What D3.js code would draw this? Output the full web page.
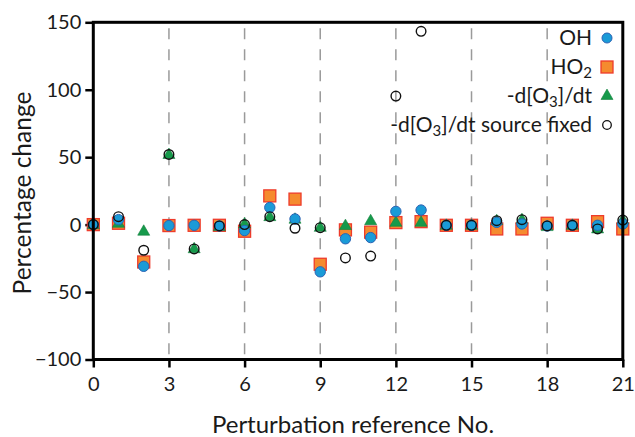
<!DOCTYPE html>
<html>
<head>
<meta charset="utf-8">
<script src="https://cdn.jsdelivr.net/npm/d3@7"></script>
<style>
  html, body { margin: 0; padding: 0; background: #fff; }
  svg { display: block; font-family: Lato, "Open Sans", sans-serif; }
</style>
</head>
<body>
<svg id="chart" width="635" height="437"></svg>
<script>
// ---- data ----
const categories = d3.range(0, 22); // perturbation reference No. 0..21
const ohValues     = [0, 3.7, -30.9, -0.7, -0.5, -1, -4.4, 12.7, 4.2, -35, -10.5, -9.6, 9.8, 10.8, -0.5, -0.5, 1.7, 0.5, -1, -0.5, -0.5, 0.5];
const ho2Values    = [0, 1, -27.7, -0.7, -0.5, -0.5, -4.9, 21.3, 18.9, -29.4, -3.9, -5.6, 1.5, 2.2, -0.5, -0.5, -3.2, -3.2, 1, -0.5, 2.2, -3.2];
const dO3Values    = [0, 1, -4.9, 52, -17.9, -1.5, 0.5, 5.9, 4, -2, -0.7, 2.9, 1.7, 1.7, -0.5, -0.5, 2.9, 3.7, -1.5, -0.5, -3.2, 3.4];
const dO3FixValues = [0, 5.9, -19, 52, -18, -1, 0, 5.9, -2.7, -2.3, -24.7, -23.3, 95.3, 143.3, -0.5, -0.5, 2.9, 3.7, -1, -0.5, -3.2, 3.4];
const xTicks = [0, 3, 6, 9, 12, 15, 18, 21];
const yTicks = [-100, -50, 0, 50, 100, 150];
const gridTicks = [3, 6, 9, 12, 15, 18];

const svg = d3.select("#chart");
const L = 93.3, R = 622.8, T = 22.3, B = 359.5;
const x = d3.scaleLinear().domain([0, 21]).range([L, R]);
const y = d3.scaleLinear().domain([-100, 150]).range([B, T]);

// grid
svg.append("g").selectAll("line").data(gridTicks).join("line")
  .attr("x1", d => x(d)).attr("x2", d => x(d))
  .attr("y1", T).attr("y2", B)
  .attr("stroke", "#9a9a9a").attr("stroke-width", 1.5)
  .attr("stroke-dasharray", "11,10").attr("stroke-dashoffset", -6);

// axes
const yAxis = svg.append("g").attr("transform", `translate(${L},0)`)
  .call(d3.axisLeft(y).tickValues(yTicks).tickSize(8).tickPadding(4).tickFormat(d3.format("d")));
const xAxis = svg.append("g").attr("transform", `translate(0,${B})`)
  .call(d3.axisBottom(x).tickValues(xTicks).tickSize(8).tickPadding(6).tickFormat(d3.format("d")));
[yAxis, xAxis].forEach(g => {
  g.select(".domain").remove();
  g.selectAll(".tick line").attr("stroke", "#000").attr("stroke-width", 2.5);
  g.selectAll(".tick text").attr("fill", "#1a1a1a").style("font-size", "20px").style("font-family", "Lato, sans-serif");
});
xAxis.selectAll(".tick text").attr("dy", "0.85em");

// markers
const sq = 12, tri = 12;
const g = svg.append("g");
g.selectAll(".ho2").data(categories).join("rect")
  .attr("x", d => x(d) - sq / 2).attr("y", (d, i) => y(ho2Values[i]) - sq / 2)
  .attr("width", sq).attr("height", sq)
  .attr("fill", "#f58b2f").attr("stroke", "#ee3b2b").attr("stroke-width", 1.3);
const triPath = d3.symbol().type(d3.symbolTriangle).size(tri * tri * 0.433)();
g.selectAll(".o3").data(categories).join("path")
  .attr("d", triPath)
  .attr("transform", (d, i) => `translate(${x(d)},${y(dO3Values[i]) + 0.5})`)
  .attr("fill", "#169a4b").attr("stroke", "#10803c").attr("stroke-width", 0.6);
g.selectAll(".oh").data(categories).join("circle")
  .attr("cx", d => x(d)).attr("cy", (d, i) => y(ohValues[i])).attr("r", 5.2)
  .attr("fill", "#1a9bd7").attr("stroke", "#2c63b4").attr("stroke-width", 1);
g.selectAll(".o3f").data(categories).join("circle")
  .attr("cx", d => x(d)).attr("cy", (d, i) => y(dO3FixValues[i])).attr("r", 4.8)
  .attr("fill", "none").attr("stroke", "#111").attr("stroke-width", 1.4);

// frame
svg.append("rect").attr("x", L).attr("y", T).attr("width", R - L).attr("height", B - T)
  .attr("fill", "none").attr("stroke", "#000").attr("stroke-width", 3);

// legend
const lg = svg.append("g").style("font-size", "21px").attr("fill", "#1a1a1a");
const lx = 592, mx = 607;
function legText(yb, parts) {
  const t = lg.append("text").attr("x", lx).attr("y", yb).attr("text-anchor", "end");
  parts.forEach(p => {
    const ts = t.append("tspan").text(p[0]);
    if (p[1] === "sub") ts.attr("baseline-shift", "-28%").style("font-size", "15px");
  });
}
legText(45, [["OH"]]);
legText(74, [["HO"], ["2", "sub"]]);
legText(103, [["-d[O"], ["3", "sub"], ["]/dt"]]);
legText(132, [["-d[O"], ["3", "sub"], ["]/dt source fixed"]]);
lg.append("circle").attr("cx", mx).attr("cy", 38).attr("r", 5)
  .attr("fill", "#1a9bd7").attr("stroke", "#2c63b4").attr("stroke-width", 1);
lg.append("rect").attr("x", mx - 6).attr("y", 61).attr("width", 12).attr("height", 12)
  .attr("fill", "#f58b2f").attr("stroke", "#ee3b2b").attr("stroke-width", 1.3);
lg.append("path").attr("d", triPath).attr("transform", `translate(${mx},96)`)
  .attr("fill", "#169a4b").attr("stroke", "#10803c").attr("stroke-width", 0.6);
lg.append("circle").attr("cx", mx).attr("cy", 125).attr("r", 4.3)
  .attr("fill", "none").attr("stroke", "#111").attr("stroke-width", 1.3);

// axis titles
svg.append("text").attr("x", 353).attr("y", 433).attr("text-anchor", "middle")
  .style("font-size", "24px").attr("fill", "#1a1a1a").text("Perturbation reference No.");
svg.append("text").attr("transform", "translate(31,193) rotate(-90)").attr("text-anchor", "middle")
  .style("font-size", "24.5px").attr("fill", "#1a1a1a").text("Percentage change");
</script>
</body>
</html>
